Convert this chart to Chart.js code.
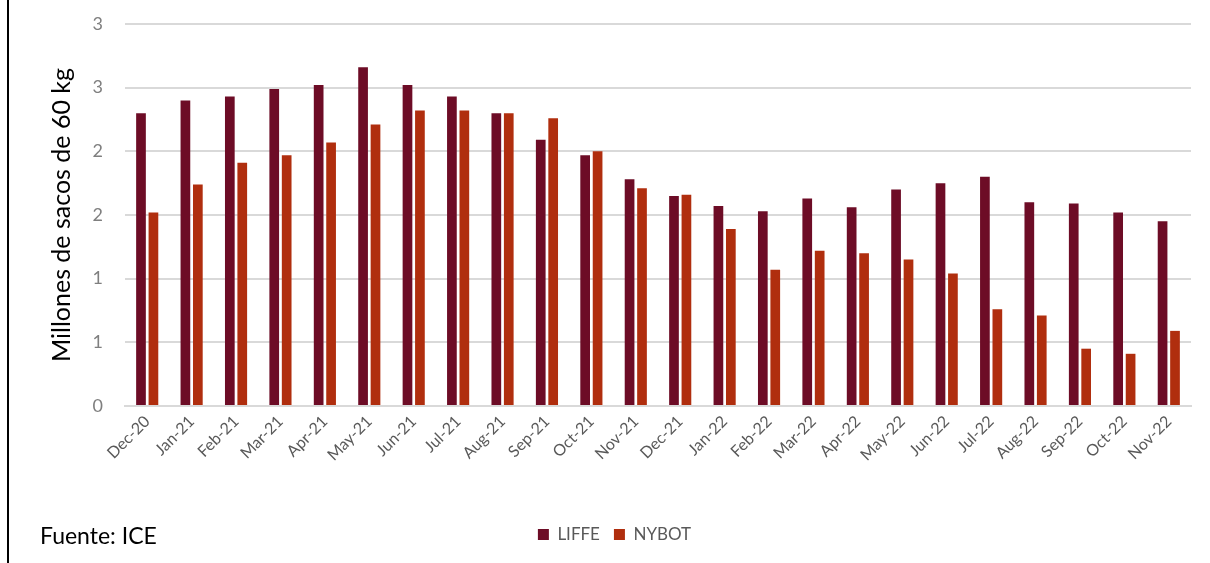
<!DOCTYPE html>
<html>
<head>
<meta charset="utf-8">
<script src="https://cdn.jsdelivr.net/npm/chart.js@4.4.0/dist/chart.umd.min.js"></script>
<style>
  html, body { margin: 0; padding: 0; background: #ffffff; }
  #wrap { position: relative; width: 1210px; height: 563px; overflow: hidden; }
  #edge { position: absolute; left: 7px; top: 0; width: 2px; height: 563px; background: #000; }
  #src { position: absolute; left: 40px; top: 521px; font-family: Lato, sans-serif; font-size: 23px; color: #000; }
  canvas { position: absolute; left: 0; top: 0; }
</style>
</head>
<body>
<div id="wrap">
  <canvas id="c" width="1210" height="563"></canvas>
  <div id="edge"></div>
  <div id="src">Fuente: ICE</div>
</div>
<script>
const categories = ['Dec-20','Jan-21','Feb-21','Mar-21','Apr-21','May-21','Jun-21','Jul-21','Aug-21','Sep-21','Oct-21','Nov-21',
  'Dec-21','Jan-22','Feb-22','Mar-22','Apr-22','May-22','Jun-22','Jul-22','Aug-22','Sep-22','Oct-22','Nov-22'];
const liffe = [2.30,2.40,2.43,2.49,2.52,2.66,2.52,2.43,2.30,2.09,1.97,1.78,1.65,1.57,1.53,1.63,1.56,1.70,1.75,1.80,1.60,1.59,1.52,1.45];
const nybot = [1.52,1.74,1.91,1.97,2.07,2.21,2.32,2.32,2.30,2.26,2.00,1.71,1.66,1.39,1.07,1.22,1.20,1.15,1.04,0.76,0.71,0.45,0.41,0.59];
const yTickLabels = ['0','1','1','2','2','3','3'];
const seriesNames = ['LIFFE','NYBOT'];
const yTitle = 'Millones de sacos de 60 kg';

const FONT = 'Lato, "Open Sans", sans-serif';

new Chart(document.getElementById('c'), {
  type: 'bar',
  data: {
    labels: categories,
    datasets: [
      { label: seriesNames[0], data: liffe, backgroundColor: '#6d0c26', borderWidth: 0 },
      { label: seriesNames[1], data: nybot, backgroundColor: '#b02e0e', borderWidth: 0 }
    ]
  },
  options: {
    responsive: false,
    animation: false,
    devicePixelRatio: 1,
    layout: { padding: { left: 38, right: 19, top: 24, bottom: 10 } },
    datasets: { bar: { categoryPercentage: 0.56, barPercentage: 0.78 } },
    plugins: {
      tooltip: { enabled: false },
      legend: {
        position: 'bottom',
        labels: {
          font: { family: FONT, size: 17 },
          color: '#595959',
          boxWidth: 11,
          boxHeight: 11,
          padding: 14
        }
      }
    },
    scales: {
      x: {
        grid: { display: false, drawTicks: false },
        border: { display: true, color: '#d9d9d9', width: 2 },
        ticks: {
          autoSkip: false,
          maxRotation: 45,
          minRotation: 45,
          padding: 6,
          color: '#595959',
          font: { family: FONT, size: 16 }
        },
        afterFit: (s) => { s.height = 106; s.paddingTop = 0; s.paddingBottom = 0; }
      },
      y: {
        min: 0,
        max: 3,
        ticks: {
          stepSize: 0.5,
          padding: 22,
          color: '#7f7f7f',
          font: { family: FONT, size: 18 },
          callback: (v, i) => yTickLabels[i]
        },
        grid: { color: '#d9d9d9', lineWidth: 2, drawTicks: false },
        border: { display: false },
        title: {
          display: true,
          text: yTitle,
          color: '#000000',
          font: { family: FONT, size: 25 },
          padding: { top: 9, bottom: 0 }
        },
        afterFit: (s) => { s.width = 87; s.paddingTop = 0; s.paddingBottom = 0; }
      }
    }
  }
});
</script>
</body>
</html>
